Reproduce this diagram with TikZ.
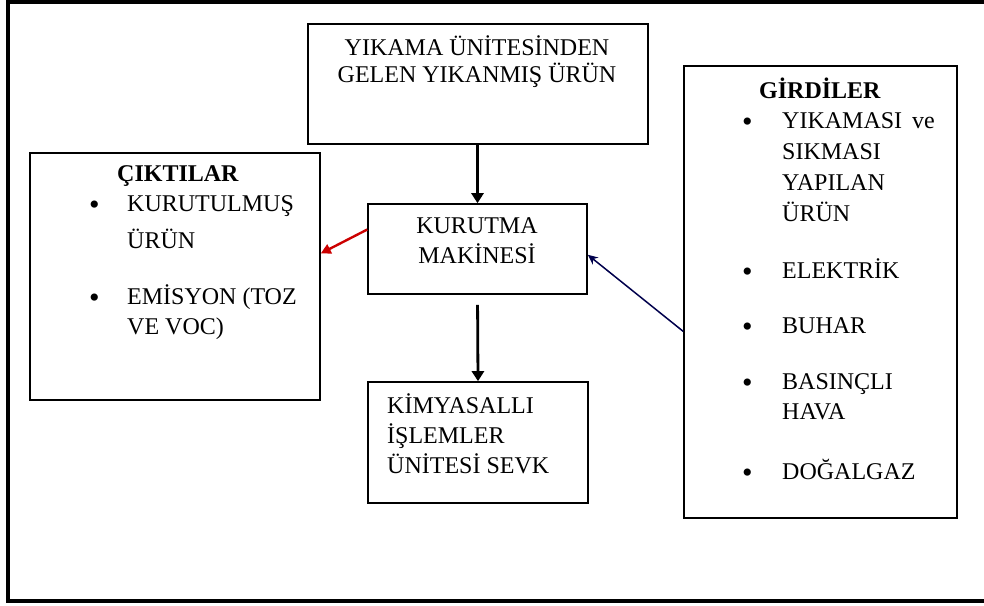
\documentclass[tikz,border=0pt]{standalone}
\usepackage{fontspec}
\setmainfont{Liberation Serif}
\usetikzlibrary{arrows.meta}
\usetikzlibrary{positioning}
\newcommand{\dotmark}{\raisebox{-3pt}{\fontsize{30}{30}\selectfont\textbullet}}

\begin{document}
\begin{tikzpicture}[x=1pt,y=-1pt,>={Triangle[width=12pt,length=10pt]},
  font=\fontsize{24}{30}\selectfont]
 \tikzstyle{box}=[draw, rectangle, line width=1.6pt, inner sep=0pt]
 \tikzstyle{txt}=[inner sep=0pt, anchor=base]
 \tikzstyle{flow}=[->, line width=2.8pt]
 \useasboundingbox (0,0) rectangle (984,605);
 % frame
 \draw[line width=4pt] (984,2) -- (8,2) -- (8,601) -- (984,601);
 % boxes
 \node[box, minimum width=340pt, minimum height=120pt] (wash) at (478,84) {};
 \node[box, minimum width=290pt, minimum height=247pt] (out)  at (175,276.5) {};
 \node[box, minimum width=219pt, minimum height=90pt]  (dry)  at (477.5,249) {};
 \node[box, minimum width=220pt, minimum height=121pt] (chem) at (478,442.5) {};
 \node[box, minimum width=273pt, minimum height=452pt] (in)   at (820.5,292) {};
 % texts
 \node[txt] (washtxt) at (477,55) {\begin{tabular}[t]{@{}c@{}}
   YIKAMA ÜNİTESİNDEN\\[-3pt] GELEN YIKANMIŞ ÜRÜN\end{tabular}};
 \node[txt] (drytxt) at (477,233) {\begin{tabular}[t]{@{}c@{}}
   KURUTMA\\ MAKİNESİ\end{tabular}};
 \node[txt, anchor=base west] (chemtxt) at (387,413) {\begin{tabular}[t]{@{}l@{}}
   KİMYASALLI\\ İŞLEMLER\\ ÜNİTESİ SEVK\end{tabular}};
 \node[txt] (outtitle) at (178,181) {\textbf{ÇIKTILAR}};
 \node[txt, anchor=base west] (outlist) at (89,211) {\begin{tabular}[t]{@{}p{38pt}@{}l@{}}
   \dotmark & KURUTULMUŞ\\[7pt]
            & ÜRÜN\\[26pt]
   \dotmark & EMİSYON (TOZ\\
            & VE VOC)\end{tabular}};
 \node[txt] (intitle) at (820,98) {\textbf{GİRDİLER}};
 \node[txt, anchor=base west] (inlist) at (742,128) {\fontsize{24}{31}\selectfont
   \begin{tabular}[t]{@{}p{40pt}@{}l@{}}
   \dotmark & YIKAMASI\hspace{10pt}ve\\
            & SIKMASI\\
            & YAPILAN\\
            & ÜRÜN\\[26pt]
   \dotmark & ELEKTRİK\\[24pt]
   \dotmark & BUHAR\\[25pt]
   \dotmark & BASINÇLI\\[-1pt]
            & HAVA\\[29pt]
   \dotmark & DOĞALGAZ\end{tabular}};
 % connectors
 \draw[flow] (wash.south -| dry.north) -- (dry.north);
 \draw[flow, shorten <=10pt] (dry.south) -- (chem.north);
 \draw[->, >={Triangle[width=10pt,length=10pt]}, red!80!black, line width=2.4pt] (dry.170) -- (out.9);
 \draw[->, >={Stealth[width=9pt,length=10pt]}, blue!30!black, line width=1.5pt] (in.196) -- (dry.-3);
\end{tikzpicture}
\end{document}
